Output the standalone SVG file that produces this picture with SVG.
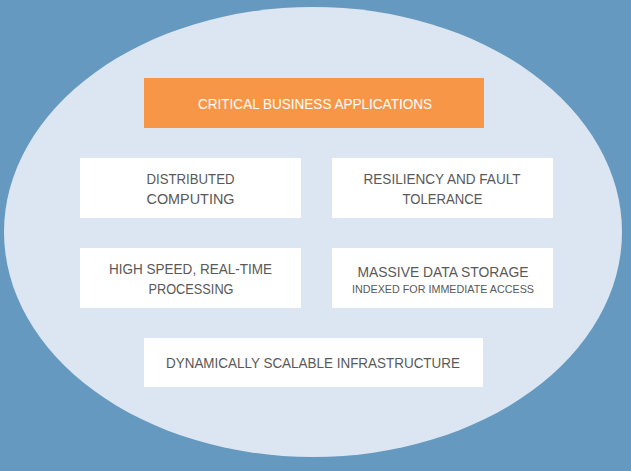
<svg xmlns="http://www.w3.org/2000/svg" width="631" height="471" viewBox="0 0 631 471">
<style>
.t{font-family:"Liberation Sans",Arial,sans-serif;font-size:15.5px;fill:#595959;text-anchor:middle}
.s{font-size:11.5px}
.w{fill:#ffffff}
.box{fill:#ffffff}
</style>
<rect x="0" y="0" width="631" height="471" fill="#6699bf"/>
<ellipse cx="313" cy="232" rx="309" ry="225" fill="#dce6f2"/>
<g id="critical">
<rect x="144" y="78" width="340" height="50" fill="#f79646"/>
<text class="t w" x="315" y="109" textLength="234" lengthAdjust="spacingAndGlyphs">CRITICAL BUSINESS APPLICATIONS</text>
</g>
<g id="distributed">
<rect class="box" x="80" y="158" width="221" height="60"/>
<text class="t" x="190.5" y="184" textLength="88" lengthAdjust="spacingAndGlyphs">DISTRIBUTED</text>
<text class="t" x="190.5" y="204" textLength="88" lengthAdjust="spacingAndGlyphs">COMPUTING</text>
</g>
<g id="resiliency">
<rect class="box" x="332" y="158" width="221" height="60"/>
<text class="t" x="442" y="184" textLength="157" lengthAdjust="spacingAndGlyphs">RESILIENCY AND FAULT</text>
<text class="t" x="442.5" y="204" textLength="80" lengthAdjust="spacingAndGlyphs">TOLERANCE</text>
</g>
<g id="highspeed">
<rect class="box" x="80" y="248" width="221" height="60"/>
<text class="t" x="190.5" y="274" textLength="163" lengthAdjust="spacingAndGlyphs">HIGH SPEED, REAL-TIME</text>
<text class="t" x="191" y="294" textLength="85" lengthAdjust="spacingAndGlyphs">PROCESSING</text>
</g>
<g id="storage">
<rect class="box" x="332" y="248" width="221" height="60"/>
<text class="t" x="443" y="277" textLength="171" lengthAdjust="spacingAndGlyphs">MASSIVE DATA STORAGE</text>
<text class="t s" x="443" y="293" textLength="182" lengthAdjust="spacingAndGlyphs">INDEXED FOR IMMEDIATE  ACCESS</text>
</g>
<g id="scalable">
<rect class="box" x="144" y="338" width="339" height="49"/>
<text class="t" x="313" y="368" textLength="294" lengthAdjust="spacingAndGlyphs">DYNAMICALLY SCALABLE INFRASTRUCTURE</text>
</g>
<g id="connectors"></g>
</svg>
